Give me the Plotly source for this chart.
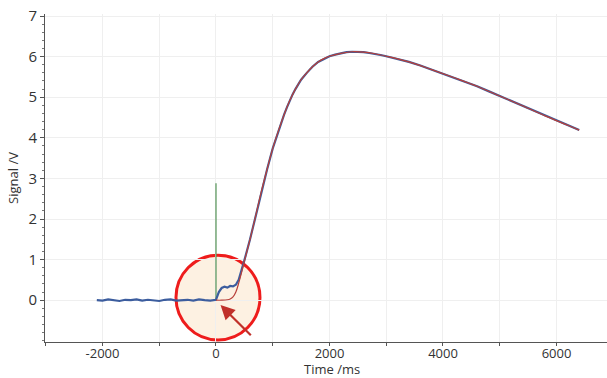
import plotly.graph_objects as go

# ---- data ----
time_ms = [-2100, -2000, -1900, -1800, -1700, -1600, -1500, -1400, -1300, -1200,
           -1100, -1000, -900, -800, -700, -600, -500, -400, -300, -200, -100, 0,
           50, 100, 150, 200, 250, 300, 350, 400, 450, 500, 600, 700, 800, 900,
           1000, 1100, 1200, 1250, 1300, 1350, 1400, 1450, 1500, 1600, 1700, 1800, 1900, 2000,
           2100, 2200, 2300, 2400, 2500, 2600, 2700, 2800, 2900, 3000, 3200,
           3400, 3600, 3800, 4000, 4200, 4400, 4600, 4800, 5000, 5200, 5400,
           5600, 5800, 6000, 6200, 6400]
signal_measured = [0.00, -0.01, 0.02, 0.00, -0.02, 0.01, 0.00, 0.02, -0.01, 0.01,
                   0.00, -0.02, 0.01, 0.02, -0.01, 0.00, 0.01, -0.01, 0.02, 0.00, -0.01, 0.01,
                   0.20, 0.30, 0.33, 0.31, 0.35, 0.34, 0.38, 0.50, 0.72, 0.98, 1.50, 2.08, 2.68, 3.22,
                   3.74, 4.17, 4.57, 4.75, 4.92, 5.07, 5.20, 5.33, 5.43, 5.60, 5.75, 5.87, 5.95, 6.01,
                   6.05, 6.08, 6.11, 6.12, 6.12, 6.11, 6.09, 6.07, 6.04, 6.01, 5.94,
                   5.87, 5.78, 5.68, 5.58, 5.48, 5.37, 5.27, 5.15, 5.03, 4.91, 4.79,
                   4.66, 4.54, 4.42, 4.31, 4.19]

fit_time = [0, 100, 200, 250, 300, 350, 400, 450, 500, 600, 700, 800, 900,
            1000, 1100, 1200, 1300, 1400, 1500, 1600, 1700, 1800, 1900, 2000,
            2200, 2400, 2600, 2800, 3000, 3400, 3800, 4200, 4600, 5000, 5400,
            5800, 6200, 6400]
fit_signal = [0.00, 0.00, 0.01, 0.03, 0.08, 0.20, 0.42, 0.68, 0.96, 1.50, 2.08, 2.68, 3.22,
              3.74, 4.17, 4.57, 4.92, 5.20, 5.43, 5.60, 5.75, 5.87, 5.95, 6.01,
              6.08, 6.12, 6.11, 6.07, 6.01, 5.87, 5.68, 5.48, 5.27, 5.03, 4.79,
              4.54, 4.31, 4.19]

trigger_time = [0, 0]
trigger_signal = [0, 2.88]

x_tickvals = [-2000, 0, 2000, 4000, 6000]
x_ticktext = ["-2000", "0", "2000", "4000", "6000"]
y_tickvals = [0, 1, 2, 3, 4, 5, 6, 7]
y_ticktext = ["0", "1", "2", "3", "4", "5", "6", "7"]

fig = go.Figure()

# highlight circle (drawn beneath traces)
fig.add_shape(type="circle", xref="x", yref="y",
              x0=-705, x1=775, y0=-0.98, y1=1.11,
              line=dict(color="#ee1c1c", width=3),
              fillcolor="rgba(250,225,190,0.45)", layer="below")

fig.add_trace(go.Scatter(x=trigger_time, y=trigger_signal, mode="lines",
                         line=dict(color="#5f9a62", width=1.3), showlegend=False))
fig.add_trace(go.Scatter(x=time_ms, y=signal_measured, mode="lines",
                         line=dict(color="#3c5d9e", width=2.2), showlegend=False))
fig.add_trace(go.Scatter(x=fit_time, y=fit_signal, mode="lines", line_shape="spline",
                         line=dict(color="#b8403a", width=1.2), showlegend=False))

fig.add_annotation(x=80, y=-0.12, ax=640, ay=-0.9, xref="x", yref="y",
                   axref="x", ayref="y", text="", showarrow=True,
                   arrowhead=2, arrowsize=1.3, arrowwidth=2.2, arrowcolor="#c0302a")

# x-axis title placed explicitly
fig.add_annotation(x=0.511, y=-0.082, xref="paper", yref="paper", yanchor="middle",
                   text="Time /ms", showarrow=False,
                   font=dict(size=13, color="#333333"))

fig.update_layout(
    width=607, height=378,
    margin=dict(l=45, r=0, t=14, b=36),
    paper_bgcolor="white", plot_bgcolor="white",
    font=dict(family="Open Sans", color="#333333"),
    xaxis=dict(range=[-3013, 6890], tickvals=x_tickvals, ticktext=x_ticktext,
               showline=True, linecolor="#555555", linewidth=1,
               ticks="outside", ticklen=3, tickcolor="#555555",
               ticklabelstandoff=-4,
               showgrid=True, gridcolor="#efefef", zeroline=False,
               tickfont=dict(size=13),
               minor=dict(dtick=1000, tick0=0, ticks="outside", ticklen=3,
                          tickcolor="#555555", showgrid=True, gridcolor="#efefef")),
    yaxis=dict(range=[-1.03, 7.05], tickvals=y_tickvals, ticktext=y_ticktext,
               showline=True, linecolor="#555555", linewidth=1,
               ticks="outside", ticklen=4, tickcolor="#555555",
               showgrid=True, gridcolor="#efefef", zeroline=False,
               tickfont=dict(size=15),
               minor=dict(dtick=0.2, tick0=0, ticks="outside", ticklen=2,
                          tickcolor="#777777", showgrid=False),
               title=dict(text="Signal /V", font=dict(size=13), standoff=6)),
)

fig.write_html("out.html")
